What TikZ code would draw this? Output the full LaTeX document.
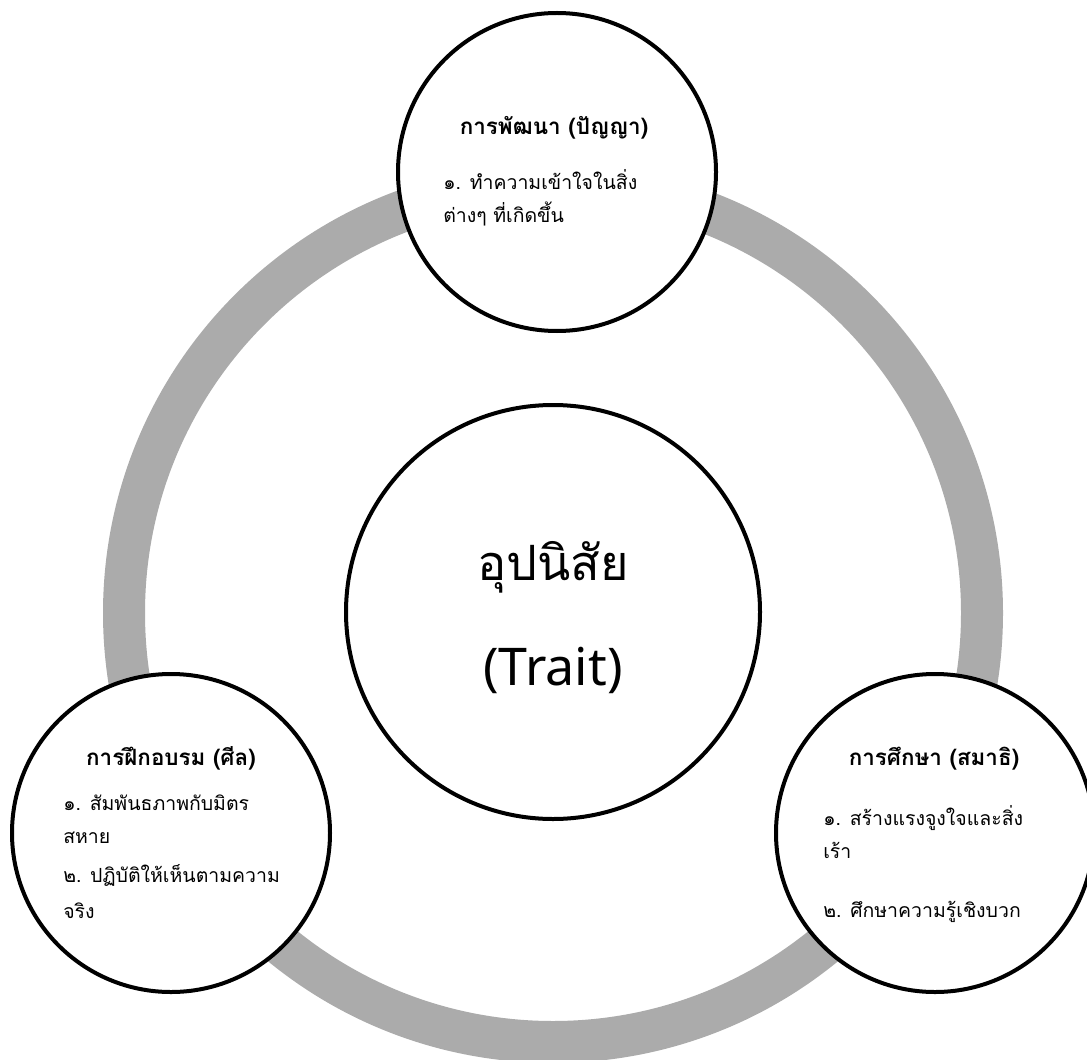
\documentclass[tikz,border=0pt]{standalone}
\usepackage{fontspec}
\newfontfamily\thaifont[Script=Thai]{Loma}
\newfontfamily\latinfont{Noto Sans}
\definecolor{ringgray}{RGB}{171,171,171}
\begin{document}
\begin{tikzpicture}[x=0.75pt,y=-0.75pt,
  ring/.style={draw=ringgray,line width=31.5pt},
  bubble/.style={circle,draw=black,fill=white,line width=3pt,inner sep=0pt,minimum size={318*0.75pt}},
  corebubble/.style={circle,draw=black,fill=white,line width=3pt,inner sep=0pt,minimum size={414*0.75pt}},
  head/.style={anchor=base,inner sep=0pt,font=\thaifont\bfseries\fontsize{16.8}{20}\selectfont},
  body/.style={anchor=base west,inner sep=0pt,font=\thaifont\fontsize{14.6}{18}\selectfont},
  coretext/.style={anchor=base,inner sep=0pt}]
\useasboundingbox (0,0) rectangle (1087,1059);

% the grey cycle behind everything
\coordinate (hub) at (553,613);
\draw[ring] (hub) circle (429);

% the core and the three stages
\node[corebubble] (core) at (553,612) {};
\node[bubble] (panya) at (557,172) {};
\node[bubble] (sila) at (171,833) {};
\node[bubble] (samadhi) at (935,833) {};

% core text
\node[coretext,font=\thaifont\fontsize{36.5}{40}\selectfont] (coreth) at (553,580) {อุปนิสัย};
\node[coretext,font=\latinfont\fontsize{39}{44}\selectfont] (coreen) at (553,685) {(Trait)};

% top stage
\node[head] (panyah) at (554,135) {การพัฒนา (ปัญญา)};
\node[body] (panya1) at (443,190) {๑. ทำความเข้าใจในสิ่ง};
\node[body] (panya2) at (443,223) {ต่างๆ ที่เกิดขึ้น};

% left stage
\node[head] (silah) at (171,765) {การฝึกอบรม (ศีล)};
\node[body] (sila1) at (63,810) {๑. สัมพันธภาพกับมิตร};
\node[body] (sila2) at (63,843) {สหาย};
\node[body] (sila3) at (63,882) {๒. ปฏิบัติให้เห็นตามความ};
\node[body] (sila4) at (63,918) {จริง};

% right stage
\node[head] (samadhih) at (934,765) {การศึกษา (สมาธิ)};
\node[body] (samadhi1) at (823,825) {๑. สร้างแรงจูงใจและสิ่ง};
\node[body] (samadhi2) at (823,858) {เร้า};
\node[body] (samadhi3) at (823,917) {๒. ศึกษาความรู้เชิงบวก};
\end{tikzpicture}
\end{document}
